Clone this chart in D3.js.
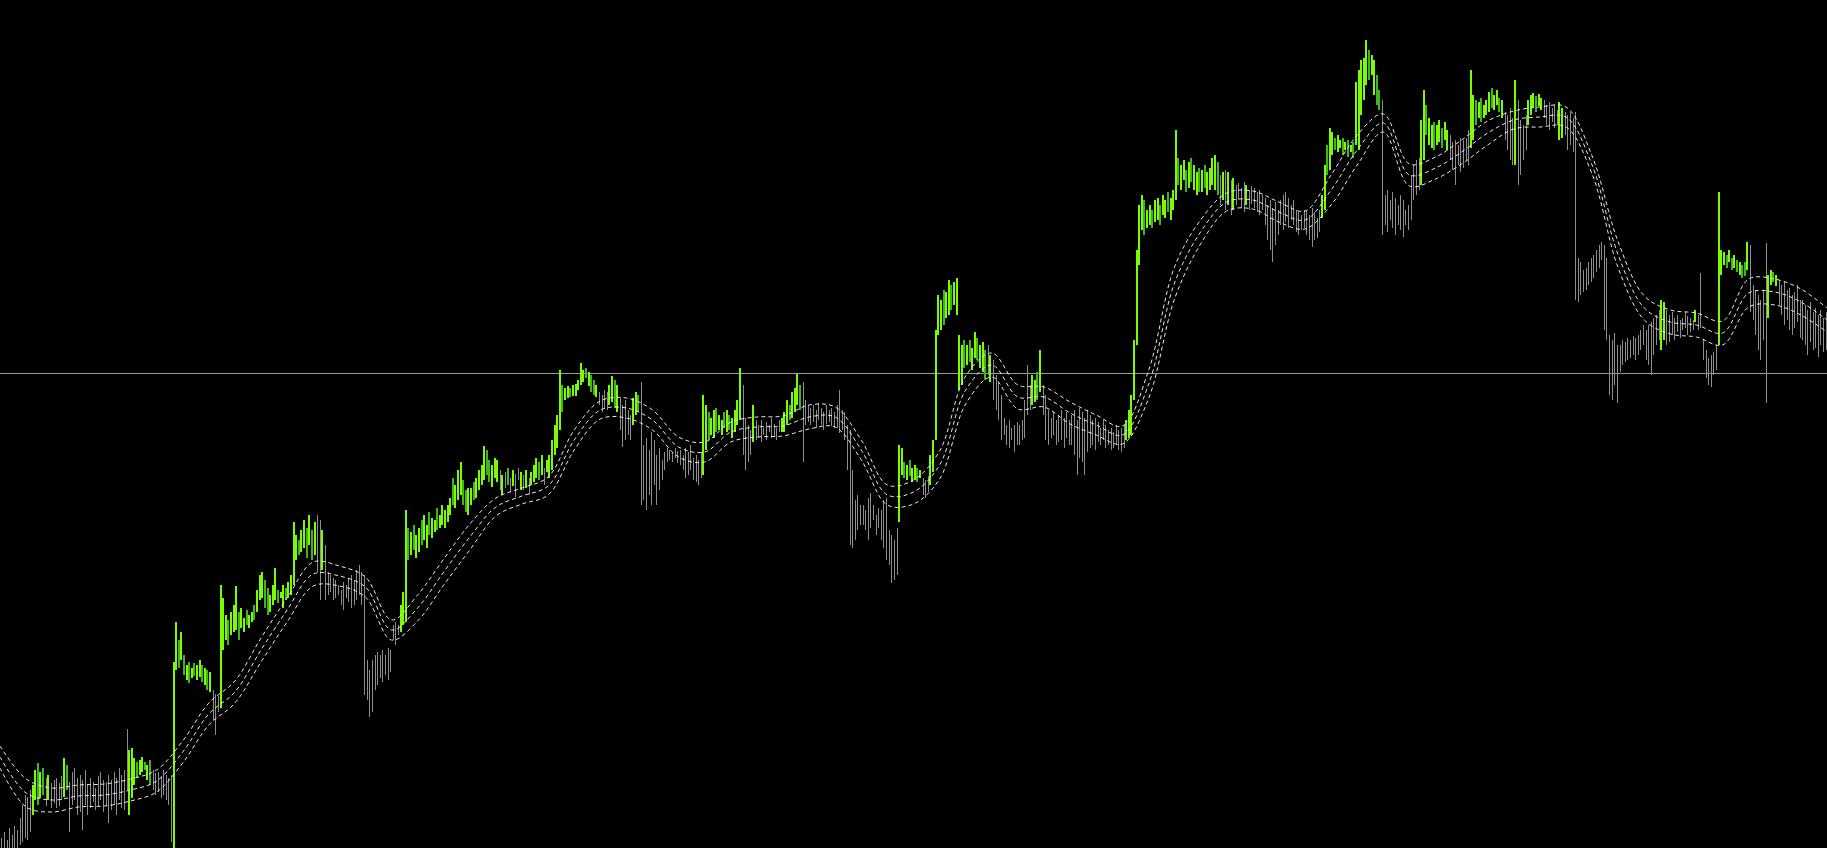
<!DOCTYPE html>
<html>
<head>
<meta charset="utf-8">
<script src="https://cdn.jsdelivr.net/npm/d3@7"></script>
<style>
html, body { margin: 0; padding: 0; background: #000; overflow: hidden; }
</style>
</head>
<body>
<div id="chartDiv"></div>
<script>
// bar highs, one line = 10 bars
var highs = [
  162,168,160,172,165,174,170,182,195,205,
  203,210,215,230,237,228,232,222,225,217,
  220,222,217,224,242,235,218,228,232,222,
  225,220,230,215,222,218,212,224,228,220,
  218,225,220,228,222,232,225,230,271,250,
  252,242,238,240,243,238,235,240,230,227,
  228,224,230,225,222,225,338,378,360,368,
  345,335,338,332,337,335,340,335,332,330,
  328,310,306,304,415,402,385,380,388,395,
  414,388,392,382,390,385,388,395,410,425,
  428,420,412,405,415,432,410,408,415,412,
  418,425,478,465,460,470,480,472,485,470,
  478,485,480,470,455,428,425,422,420,415,
  410,418,415,422,425,420,430,435,428,425,
  340,330,340,345,348,345,350,345,352,350,
  375,378,375,395,408,490,472,468,475,465,
  472,480,485,475,488,482,480,492,485,495,
  490,495,502,522,515,530,538,520,510,512,
  512,518,522,530,535,554,550,540,535,542,
  540,530,525,528,532,522,530,526,532,528,
  525,530,522,528,535,542,538,545,532,540,
  545,560,575,585,630,615,612,614,612,615,
  616,620,637,630,632,628,625,620,615,608,
  605,610,608,615,624,620,615,602,595,600,
  590,585,602,608,605,618,555,562,550,568,
  560,545,552,540,548,552,550,548,552,549,
  550,545,552,548,555,542,545,540,548,605,
  595,588,582,590,592,585,580,588,590,585,
  582,590,600,632,615,582,575,570,595,580,
  575,580,572,578,575,582,576,572,580,582,
  588,600,595,608,612,626,615,618,600,595,
  592,595,590,597,592,588,595,590,592,588,
  595,610,590,588,575,570,530,500,505,495,
  495,490,502,507,495,485,492,490,500,502,
  470,465,460,472,555,552,538,535,540,532,
  535,532,530,522,520,524,545,560,670,705,
  700,710,708,720,715,718,722,665,655,660,
  655,660,652,668,662,655,658,650,655,645,
  640,625,618,605,582,575,580,572,575,578,
  575,580,600,635,615,625,620,628,650,615,
  605,590,582,588,580,585,590,582,588,580,
  585,590,580,592,588,582,590,585,580,582,
  578,572,580,575,570,572,568,575,570,572,
  575,580,590,605,660,750,795,805,800,790,
  795,790,800,802,795,805,800,808,802,810,
  870,842,835,840,830,838,842,835,828,832,
  830,835,828,832,842,845,838,825,828,830,
  828,820,822,815,817,812,818,815,810,814,
  812,808,810,805,802,795,800,792,798,790,
  800,805,808,802,795,800,790,788,785,790,
  790,785,792,788,782,790,805,835,855,872,
  868,862,865,860,862,858,860,855,858,918,
  930,940,942,960,950,945,940,925,910,900,
  805,810,800,808,802,795,805,800,790,795,
  825,835,840,842,880,910,895,882,875,878,
  875,880,872,878,870,865,858,860,855,862,
  860,862,870,930,905,900,898,902,895,900,
  908,912,905,910,902,900,888,885,892,882,
  920,900,880,875,885,900,905,907,904,906,
  902,900,895,898,892,896,890,898,892,888,
  885,888,882,888,742,738,730,732,738,742,
  745,750,755,758,755,742,665,660,667,655,
  655,660,658,662,660,664,662,665,670,675,
  670,675,678,682,685,690,700,698,690,685,
  688,682,685,680,682,688,684,682,680,690,
  685,727,660,650,642,645,648,655,808,750,
  748,745,750,742,745,740,738,735,738,758,
  755,715,710,705,700,710,757,725,730,728,
  725,720,715,718,710,712,705,708,715,700,
  700,695,690,698,688,692,685,690,682,688
];

// bar lows, same order
var lows = [
  140,142,138,145,140,150,148,155,158,162,
  160,168,185,200,195,202,205,194,200,192,
  197,192,194,200,203,210,168,195,200,185,
  188,170,195,185,192,198,190,194,200,188,
  194,177,190,195,185,200,192,190,210,185,
  202,215,222,225,228,230,220,215,210,205,
  208,202,205,200,195,158,140,330,332,340,
  325,320,317,322,324,320,323,318,315,310,
  308,280,265,288,292,350,360,355,365,368,
  370,360,372,368,375,372,378,380,388,400,
  402,392,385,388,395,400,397,402,392,400,
  402,405,415,440,445,448,452,442,455,440,
  445,428,400,430,400,405,408,400,402,405,
  395,390,402,398,392,395,400,405,395,305,
  300,283,288,310,315,322,318,325,320,328,
  360,355,365,368,375,378,440,445,450,442,
  448,455,460,452,465,462,468,470,472,475,
  472,478,485,495,492,500,505,495,488,485,
  495,500,502,510,515,520,525,518,513,522,
  518,510,505,512,515,508,514,503,520,510,
  510,512,505,515,518,522,520,525,515,528,
  522,530,545,552,570,588,600,602,603,604,
  604,610,615,618,622,614,608,605,603,595,
  588,592,590,595,598,592,588,570,553,560,
  565,560,575,585,588,495,500,490,505,495,
  515,495,510,520,530,538,540,538,542,537,
  535,530,522,525,530,520,518,515,522,525,
  550,560,565,562,568,570,565,572,568,570,
  562,568,575,580,545,530,538,545,558,560,
  562,558,565,560,568,562,564,560,568,568,
  568,575,580,582,588,595,590,538,575,578,
  575,578,572,580,575,570,576,578,574,572,
  572,567,570,560,530,455,452,460,470,475,
  475,470,460,472,480,465,472,460,452,440,
  435,417,420,425,478,525,522,520,524,518,
  520,518,522,505,502,508,515,528,560,665,
  670,675,682,685,690,695,685,610,615,632,
  635,638,630,642,640,632,628,620,625,618,
  600,590,580,560,565,555,552,560,548,555,
  555,560,562,585,590,595,598,600,608,585,
  560,555,562,565,555,558,560,552,562,555,
  555,545,525,542,538,525,548,552,555,550,
  558,555,560,552,555,550,552,555,550,548,
  552,560,562,565,600,655,735,770,765,772,
  775,772,778,780,775,785,782,788,780,790,
  800,815,810,820,808,812,818,810,805,808,
  808,812,805,810,815,810,805,795,800,790,
  795,785,790,795,800,792,788,795,790,796,
  792,788,785,790,775,760,750,738,755,765,
  775,770,778,772,780,775,768,765,770,772,
  765,760,753,760,762,768,782,790,825,830,
  845,850,848,852,845,850,843,848,842,855,
  850,885,900,915,920,925,905,895,890,765,
  775,768,780,772,765,775,770,763,775,770,
  780,800,805,810,815,840,865,855,852,850,
  855,858,852,860,850,840,830,815,835,828,
  832,840,835,852,860,875,882,878,882,885,
  888,892,890,895,888,882,860,850,840,835,
  835,815,825,840,850,875,885,892,888,894,
  890,882,875,870,878,872,875,860,862,865,
  850,855,848,700,698,705,708,710,715,718,
  722,728,732,740,670,660,605,600,615,597,
  628,635,638,640,642,645,640,645,650,655,
  640,635,625,645,655,660,650,660,655,658,
  665,660,668,662,670,672,665,668,670,678,
  670,672,640,622,615,613,625,630,655,725,
  735,732,738,730,732,728,725,722,724,730,
  688,680,665,650,640,660,597,682,715,718,
  714,695,685,675,680,670,665,672,678,662,
  660,655,645,658,650,652,643,655,648,650
];

// G = up above band, g = down above band, s = below / inside band
var tones = [
  "ssssssssss","ssGGgGgsGs","ssssGgssss","ssssssssss","sssssssssG",
  "GGgGGgGgss","ssssssGGgG","gGgGgGGgGg","GsssGGGgGG","GgGGgGGgGG",
  "GggGGGgGGg","GGGGgGGgGg","GssGssssss","ssssssssss","ssssssssss",
  "sssGGGgGgG","GgGGgGGgGG","GGGgGGGggG","GgGGGGggGG","GsGsgsGssG",
  "sGsGGGgGsG","GGGGGgGGgG","GGGGgGggGs","sssGGgGsss","ssGGgsssss",
  "ssssssssss","sssssssssG","GgGGgGGgGg","GGGGssssGs","sssssssssG",
  "GGgGGGgsss","ssssssssss","ssssssssss","ssssssssss","ssssGGgGgG",
  "GgGsssGGGG","GgGGgGGGGg","GgGGgGGgsG","ssssssssss","sssssGGgGs",
  "ssssssssss","ssssssssss","ssssssssss","sGGGGGGGgG","GgGGgGGgGG",
  "GgGGgGgGGg","GgGGGGgsGs","GsGssssGss","ssssssssss","ssssssssss",
  "ssssssGGgG","GgGGgGgGgG","GGGGgGGggs","ssssssssss","ssssGGgGGg",
  "GGgGGsssss","sssGGgGgGG","GgGGgGssss","GssssGGGgG","GssssssGGs",
  "ssssssssss","ssssssssss","ssssssssss","ssssssGGss","sssssssssG",
  "ssssssssGG","GgGgGgGggG","sssssssGGg","Gsssssssss","ssssssssss"
].join("");

// middle line of the band, one value every 10 bars
var bandMid = [
  243,207,200,204,205,210,219,248,286,308,
  350,390,426,424,413,370,392,428,463,493,
  504,514,560,590,592,580,553,548,568,573,
  574,583,583,550,505,508,535,610,635,603,
  603,587,575,565,615,717,768,798,800,788,
  780,810,850,877,825,832,848,867,880,883,
  883,835,745,692,678,675,667,707,708,698,
  680
];
// half width of the band at the same points
var bandHalf = [
  11,14,12,11,11,11,11,11,11,11,
  12,12,12,10,10,10,13,13,13,9,
  8,9,10,9,10,10,10,10,10,10,
  10,12,10,10,10,12,14,14,12,12,
  10,11,10,9,14,16,12,9,9,10,
  9,15,15,9,11,11,12,12,9,10,
  10,9,13,12,12,12,12,14,13,13,
  12
];
var bandStep = 10;
var bandSide = [1, 0, -1];
var levelPrice = 627;

var width = 1827, height = 848;

var svg = d3.select("#chartDiv")
    .append("svg")
    .attr("width", width)
    .attr("height", height)
    .style("display", "block")
    .style("background", "#000");

var x = d3.scaleLinear().domain([0, highs.length]).range([0, width]);
var y = d3.scaleLinear().domain([152, 1000]).range([height, 0]);

var toneColor = { G: "#7cfc00", g: "#3cb81a", s: "#8e8e8e" };

// horizontal price level
svg.append("line")
    .attr("x1", 0)
    .attr("x2", width)
    .attr("y1", Math.round(y(levelPrice)) + 0.5)
    .attr("y2", Math.round(y(levelPrice)) + 0.5)
    .style("stroke", "#9a9a9a")
    .style("stroke-width", 1);

// bars: green ones a little heavier
function barX(i) {
    var px = Math.round(x(i + 0.5));
    return tones[i] === "s" ? px + 0.5 : px;
}
svg.append("g")
    .attr("class", "bars")
    .style("shape-rendering", "crispEdges")
    .selectAll("line")
    .data(highs)
    .enter().append("line")
    .attr("x1", function (d, i) { return barX(i); })
    .attr("x2", function (d, i) { return barX(i); })
    .attr("y1", function (d) { return y(d); })
    .attr("y2", function (d, i) { return y(lows[i]); })
    .style("stroke", function (d, i) { return toneColor[tones[i]] || toneColor.s; })
    .style("stroke-width", function (d, i) { return tones[i] === "s" ? 1 : 2; });

// band lines
bandSide.forEach(function (s) {
    var line = d3.line()
        .x(function (d, i) { return x(i * bandStep); })
        .y(function (d, i) { return y(d + s * bandHalf[i]); })
        .curve(d3.curveCatmullRom.alpha(0.5));
    svg.append("path")
        .datum(bandMid)
        .attr("d", line)
        .style("fill", "none")
        .style("stroke", "#e8e8e8")
        .style("stroke-width", 1)
        .style("stroke-dasharray", "4,3");
});
</script>
</body>
</html>
